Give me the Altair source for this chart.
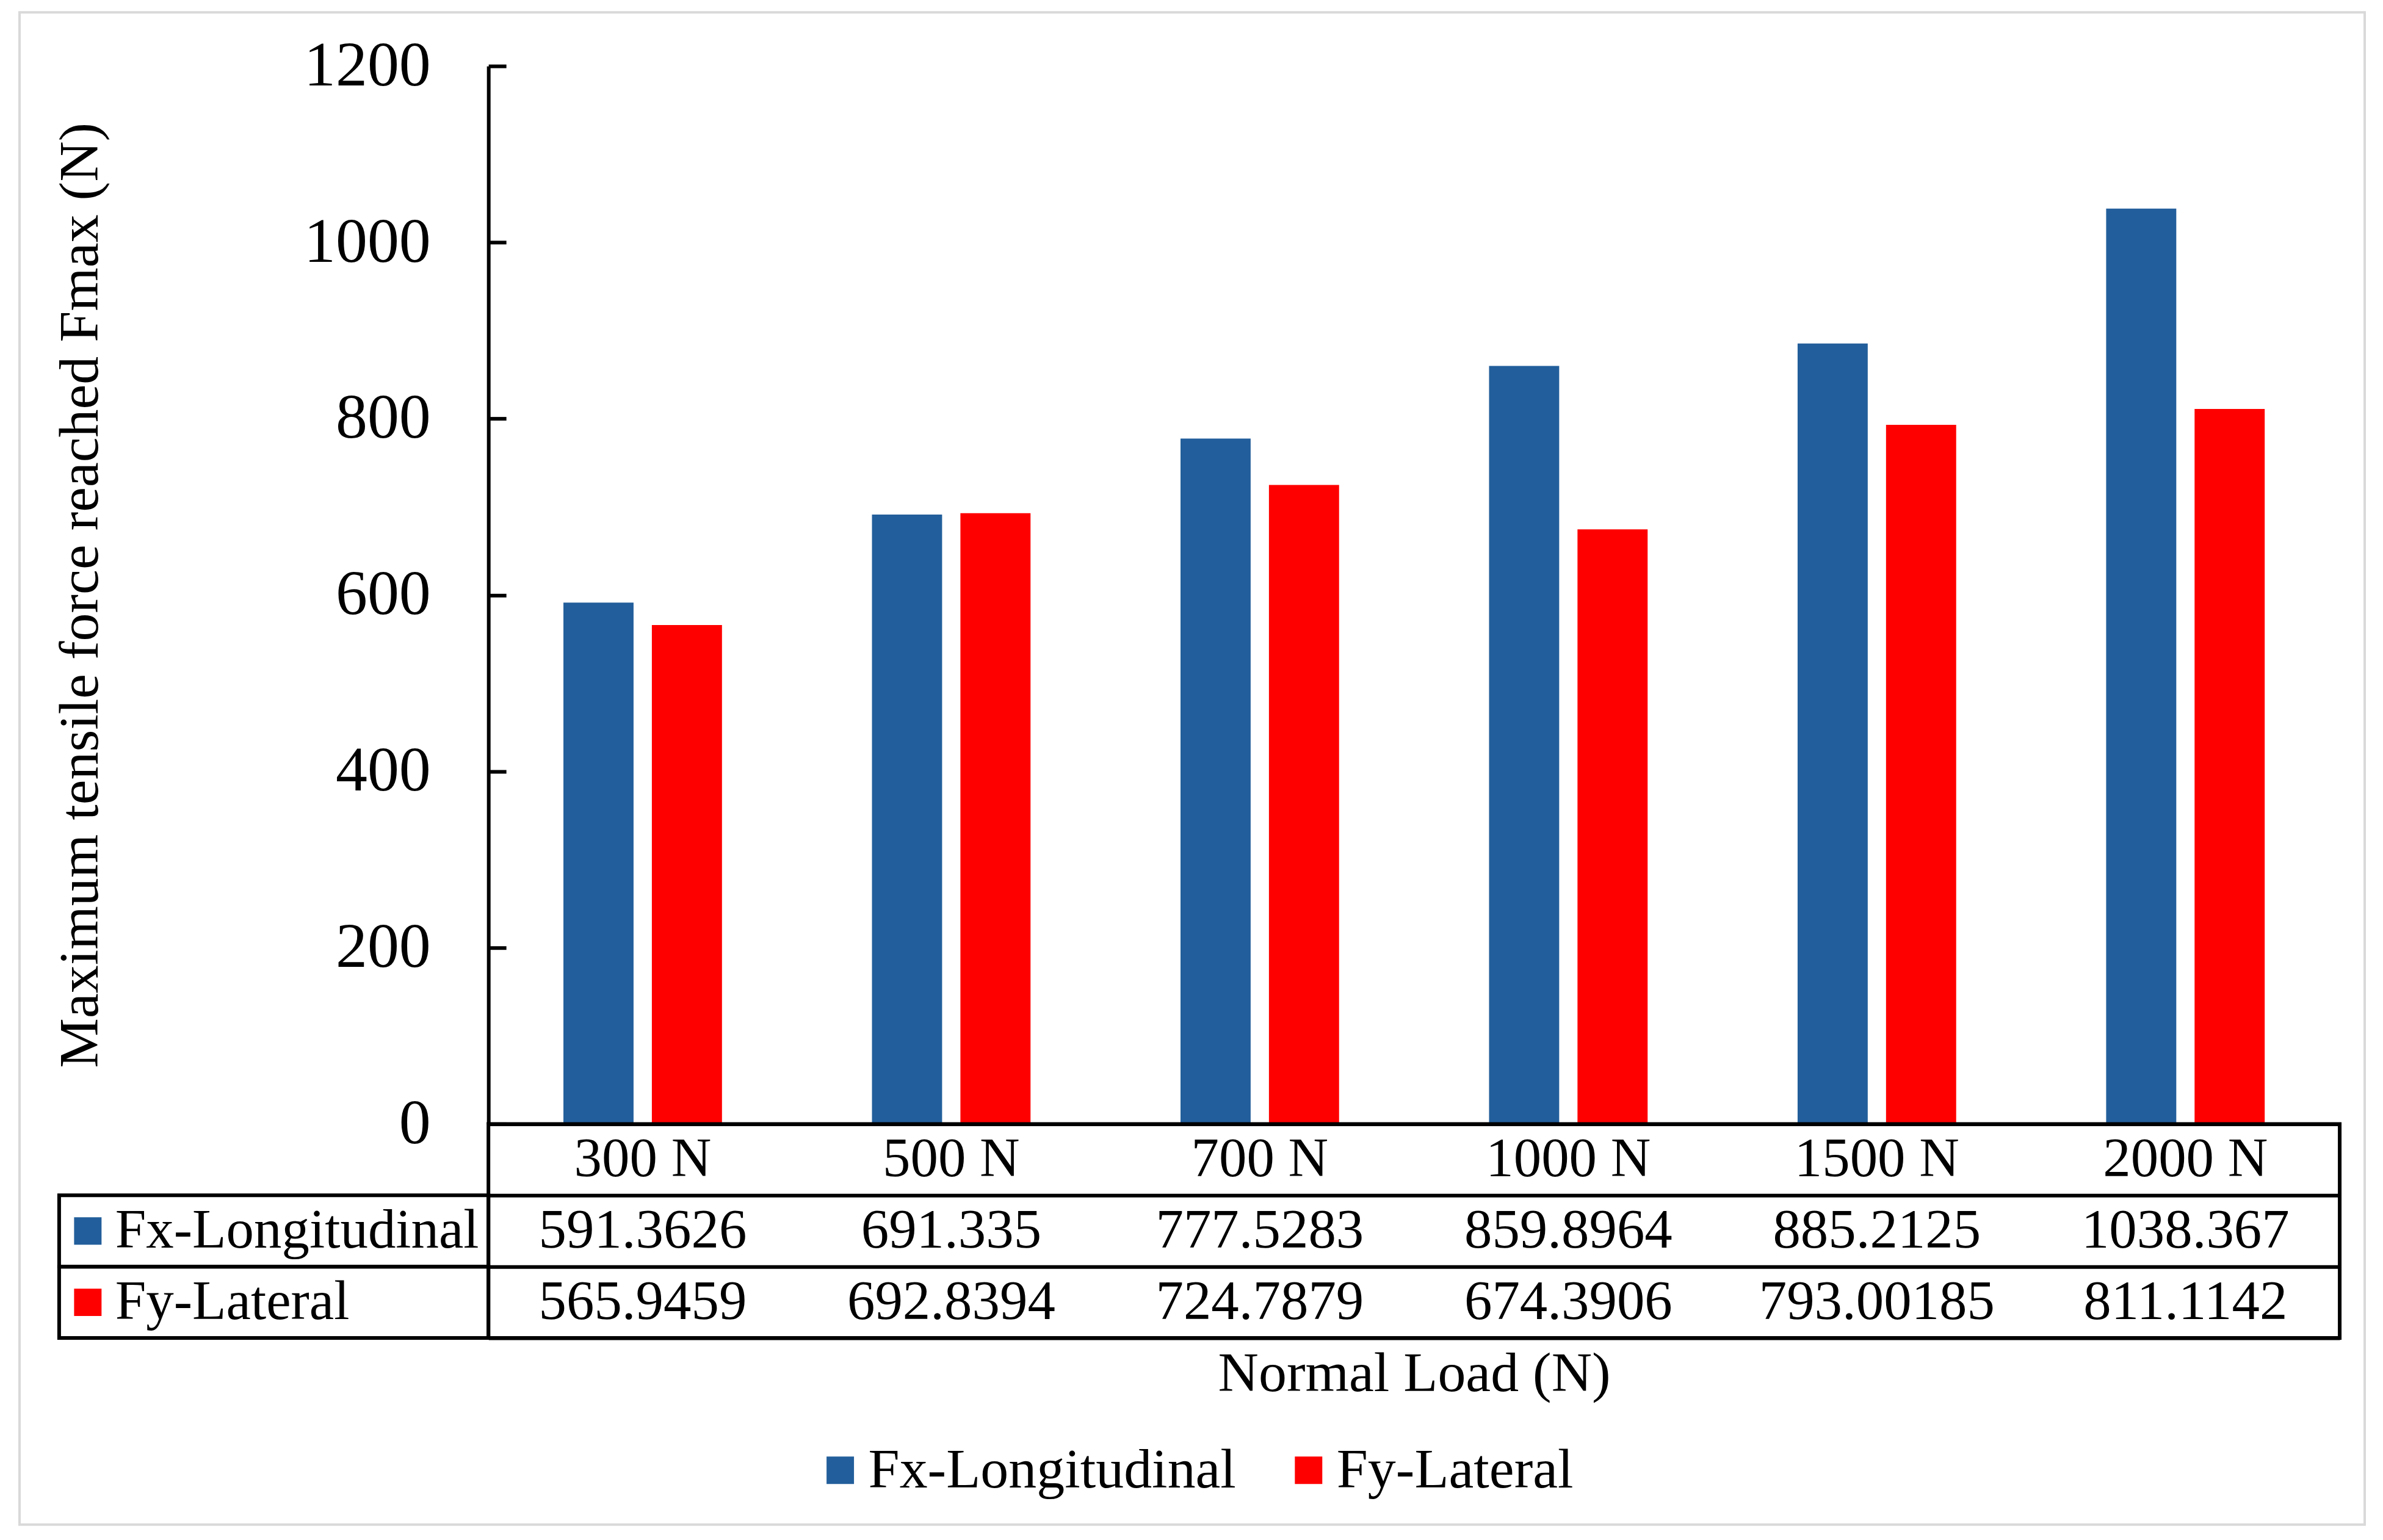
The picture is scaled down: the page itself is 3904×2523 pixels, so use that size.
import altair as alt
import pandas as pd

# ---------------- data ----------------
categories = ["300 N", "500 N", "700 N", "1000 N", "1500 N", "2000 N"]
series = ["Fx-Longitudinal", "Fy-Lateral"]
fx_values = [591.3626, 691.335, 777.5283, 859.8964, 885.2125, 1038.367]
fy_values = [565.9459, 692.8394, 724.7879, 674.3906, 793.00185, 811.1142]
y_ticks = [0, 200, 400, 600, 800, 1000, 1200]
colors = ["#225E9B", "#FF0000"]

# ---------------- layout constants ----------------
FONT = "Liberation Serif"
CELL_W = 506
PLOT_W = CELL_W * len(categories)
PLOT_H = 1735
ROW_H = 117
LEFT_W = 704
LINE_W = 6
FS = 91

bars_df = pd.DataFrame({
    "category": categories * 2,
    "series": [series[0]] * len(categories) + [series[1]] * len(categories),
    "value": fx_values + fy_values,
})

table_rows = []
for i, c in enumerate(categories):
    table_rows.append({"category": c, "row": "header", "text": c})
    table_rows.append({"category": c, "row": series[0], "text": str(fx_values[i])})
    table_rows.append({"category": c, "row": series[1], "text": str(fy_values[i])})
table_df = pd.DataFrame(table_rows)
row_order = ["header"] + series

left_df = pd.DataFrame({"series": series})

color_enc = alt.Color(
    "series:N",
    scale=alt.Scale(domain=series, range=colors),
    legend=alt.Legend(
        orient="none", legendX=1235, legendY=2257, direction="horizontal",
        title=None, symbolType="square", symbolSize=2025, symbolStrokeWidth=0,
        labelFontSize=92, labelFont=FONT, labelColor="black", labelOffset=0,
        columnPadding=72, padding=0, labelLimit=1000,
    ),
)

x_enc = alt.X("category:N", sort=categories,
              scale=alt.Scale(paddingInner=0, paddingOuter=0), axis=None)
xoff_enc = alt.XOffset("series:N", sort=series,
                       scale=alt.Scale(paddingInner=0.207, paddingOuter=0.848))
y_scale = alt.Scale(domain=[0, 1200], nice=False, zero=True)

bars = alt.Chart(bars_df).mark_bar().encode(
    x=x_enc,
    xOffset=xoff_enc,
    y=alt.Y("value:Q", scale=y_scale,
            axis=alt.Axis(values=y_ticks, format="d",
                          title="Maximum tensile force reached Fmax (N)",
                          titleFont=FONT, titleFontSize=92, titleFontWeight="normal",
                          titleColor="black", titlePadding=422,
                          labelFont=FONT, labelFontSize=104, labelColor="black",
                          labelPadding=95, labelFlush=False, labelLimit=600,
                          ticks=False, domain=True, domainColor="black",
                          domainWidth=LINE_W, grid=False)),
    color=color_enc,
)

tick_layer = alt.Chart(bars_df).mark_bar(opacity=0).encode(
    x=x_enc,
    xOffset=xoff_enc,
    y=alt.Y("value:Q", scale=y_scale,
            axis=alt.Axis(orient="right", offset=-PLOT_W, values=y_ticks, labels=False,
                          ticks=True, tickSize=29, tickWidth=LINE_W, tickColor="black",
                          domain=False, grid=False, title=None)),
)

bars_chart = alt.layer(bars, tick_layer).resolve_axis(y="independent").properties(
    width=PLOT_W, height=PLOT_H, view=alt.ViewBackground(stroke=None)
)

table = alt.Chart(table_df).mark_text(
    font=FONT, fontSize=FS, color="black", baseline="middle", align="center"
).encode(
    x=alt.X("category:N", sort=categories,
            scale=alt.Scale(paddingInner=0, paddingOuter=0),
            axis=alt.Axis(title="Normal Load (N)", titleFont=FONT, titleFontSize=92,
                          titleFontWeight="normal", titleColor="black", titlePadding=14,
                          labels=False, ticks=False, domain=False, grid=False)),
    y=alt.Y("row:N", sort=row_order,
            scale=alt.Scale(domain=row_order, paddingInner=0, paddingOuter=0),
            axis=alt.Axis(title=None, labels=False, ticks=False, domain=False,
                          grid=True, gridColor="black", gridWidth=LINE_W,
                          tickBand="extent")),
    text="text:N",
).properties(width=PLOT_W, height=3 * ROW_H,
             view=alt.ViewBackground(stroke="black", strokeWidth=LINE_W))

left_y = alt.Y("series:N",
               scale=alt.Scale(domain=row_order, paddingInner=0, paddingOuter=0),
               axis=None)
left_box = alt.Chart(left_df).mark_rect(
    fill="white", fillOpacity=0, stroke="black", strokeWidth=LINE_W
).encode(x=alt.value(0), x2=alt.value(LEFT_W), y=left_y)
left_sq = alt.Chart(left_df).mark_square(size=2025, opacity=1, filled=True).encode(
    x=alt.value(47), y=left_y, color=color_enc
)
left_tx = alt.Chart(left_df).mark_text(
    font=FONT, fontSize=FS, align="left", baseline="middle", color="black"
).encode(x=alt.value(92), y=left_y, text="series:N")
leftcol = alt.layer(left_box, left_sq, left_tx).properties(
    width=LEFT_W, height=3 * ROW_H, view=alt.ViewBackground(stroke=None)
)

# light grey outer frame of the figure (decoration), drawn from the empty corner cell
frame = alt.Chart(left_df.head(1)).mark_rect(
    fill="white", fillOpacity=0, stroke="#D9D9D9", strokeWidth=4
).encode(x=alt.value(-65), x2=alt.value(3781), y=alt.value(-88), y2=alt.value(2392))
spacer = alt.layer(frame).properties(
    width=LEFT_W, height=PLOT_H, view=alt.ViewBackground(stroke=None)
)

chart = alt.concat(
    spacer, bars_chart, leftcol, table, columns=2, spacing=0, bounds="flush"
).properties(
    padding={"left": 22, "top": 9, "right": 20, "bottom": 20},
    background="white",
).configure(font=FONT).configure_view(stroke=None)

chart.save("out.html", embed_options={"renderer": "svg", "actions": False})
